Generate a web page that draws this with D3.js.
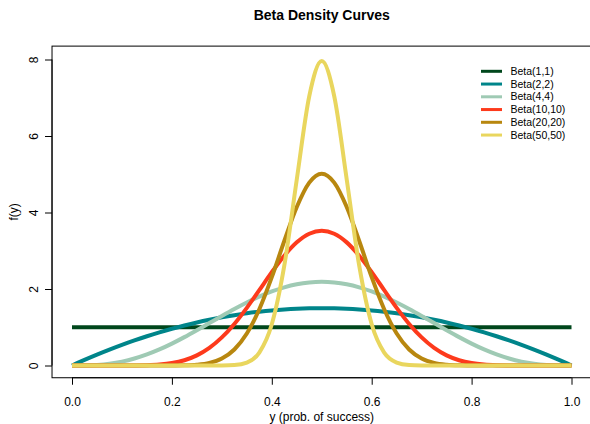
<!DOCTYPE html>
<html>
<head>
<meta charset="utf-8">
<script src="https://cdn.jsdelivr.net/npm/d3@7"></script>
<style>
  body { margin: 0; background: #fff; }
  text { font-family: "Liberation Sans", Arial, Helvetica, sans-serif; fill: #000; }
</style>
</head>
<body>
<div id="graph"></div>
<script>
// Chart data (densities at steps of 0.025)
var xs = [0, 0.025, 0.05, 0.075, 0.1, 0.125, 0.15, 0.175, 0.2, 0.225, 0.25, 0.275, 0.3, 0.325, 0.35, 0.375, 0.4,
  0.425, 0.45, 0.475, 0.5, 0.525, 0.55, 0.575, 0.6, 0.625, 0.65, 0.675, 0.7, 0.725, 0.75, 0.775, 0.8, 0.825,
  0.85, 0.875, 0.9, 0.925, 0.95, 0.975, 1];

var beta1_1 = [1, 1, 1, 1, 1, 1, 1, 1, 1, 1, 1, 1, 1, 1, 1, 1, 1, 1, 1, 1, 1,
  1, 1, 1, 1, 1, 1, 1, 1, 1, 1, 1, 1, 1, 1, 1, 1, 1, 1, 1, 1];
var beta2_2 = [0, 0.146, 0.285, 0.416, 0.54, 0.656, 0.765, 0.866, 0.96, 1.046, 1.125, 1.196, 1.26, 1.316, 1.365, 1.406, 1.44, 1.466, 1.485, 1.496, 1.5,
  1.496, 1.485, 1.466, 1.44, 1.406, 1.365, 1.316, 1.26, 1.196, 1.125, 1.046, 0.96, 0.866, 0.765, 0.656, 0.54, 0.416, 0.285, 0.146, 0];
var beta4_4 = [0, 0.002, 0.015, 0.047, 0.102, 0.183, 0.29, 0.421, 0.573, 0.742, 0.923, 1.11, 1.297, 1.478, 1.648, 1.802, 1.935, 2.043, 2.123, 2.171, 2.188,
  2.171, 2.123, 2.043, 1.935, 1.802, 1.648, 1.478, 1.297, 1.11, 0.923, 0.742, 0.573, 0.421, 0.29, 0.183, 0.102, 0.047, 0.015, 0.002, 0];
var beta10_10 = [0, 0, 0, 0, 0, 0.002, 0.008, 0.025, 0.063, 0.138, 0.265, 0.46, 0.734, 1.087, 1.508, 1.971, 2.44, 2.871, 3.219, 3.445, 3.524,
  3.445, 3.219, 2.871, 2.44, 1.971, 1.508, 1.087, 0.734, 0.46, 0.265, 0.138, 0.063, 0.025, 0.008, 0.002, 0, 0, 0, 0, 0];
var beta20_20 = [0, 0, 0, 0, 0, 0, 0, 0, 0.001, 0.005, 0.021, 0.068, 0.183, 0.419, 0.836, 1.471, 2.309, 3.255, 4.143, 4.782, 5.015,
  4.782, 4.143, 3.255, 2.309, 1.471, 0.836, 0.419, 0.183, 0.068, 0.021, 0.005, 0.001, 0, 0, 0, 0, 0, 0, 0, 0];
var beta50_50 = [0, 0, 0, 0, 0, 0, 0, 0, 0, 0, 0, 0, 0.002, 0.013, 0.078, 0.337, 1.077, 2.609, 4.864, 7.04, 7.959,
  7.04, 4.864, 2.609, 1.077, 0.337, 0.078, 0.013, 0.002, 0, 0, 0, 0, 0, 0, 0, 0, 0, 0, 0, 0];

var seriesNames = ['Beta(1,1)', 'Beta(2,2)', 'Beta(4,4)', 'Beta(10,10)', 'Beta(20,20)', 'Beta(50,50)'];
var seriesValues = [beta1_1, beta2_2, beta4_4, beta10_10, beta20_20, beta50_50];
var seriesColors = ['#00471c', '#00858a', '#9fcab4', '#fd3a1c', '#b8870f', '#e9d65e'];

var xTicks = [0, 0.2, 0.4, 0.6, 0.8, 1];
var yTicks = [0, 2, 4, 6, 8];

// Graph dimensions
var width = 590, height = 424;

// Set ranges
var x = d3.scaleLinear().domain([0, 1]).range([72, 571.5]),
    y = d3.scaleLinear().domain([0, 8]).range([365.5, 59.5]);

// Plot box edges (R extends x range by 4%)
var boxLeft = x(-0.04), boxRight = x(1.04),
    boxTop = y(8.35), boxBottom = y(-0.32);

var svg = d3.select('#graph')
    .append('svg')
    .attr('width', width)
    .attr('height', height);

// Define line
var line = d3.line()
    .curve(d3.curveMonotoneX)
    .x(function(d) { return x(d[0]); })
    .y(function(d) { return y(d[1]); });

// Curves
seriesValues.forEach(function(vals, i) {
    svg.append('path')
        .datum(xs.map(function(v, j) { return [v, vals[j]]; }))
        .attr('fill', 'none')
        .attr('stroke', seriesColors[i])
        .attr('stroke-width', 4)
        .attr('stroke-linejoin', 'round')
        .attr('d', line);
});

// Box
svg.append('rect')
    .attr('x', boxLeft)
    .attr('y', boxTop)
    .attr('width', boxRight - boxLeft)
    .attr('height', boxBottom - boxTop)
    .attr('fill', 'none')
    .attr('stroke', '#000')
    .attr('stroke-width', 1);

// X axis
var xAxis = svg.append('g')
    .attr('transform', 'translate(0,' + boxBottom + ')')
    .call(d3.axisBottom(x).tickValues(xTicks).tickFormat(d3.format('.1f')).tickSize(7).tickPadding(13));
xAxis.selectAll('text').attr('font-size', 12).attr('font-family', null);
xAxis.selectAll('line, path').attr('stroke', '#000');
xAxis.select('.domain').attr('d', 'M' + x(0) + ',0H' + x(1));

// Y axis
var yAxis = svg.append('g')
    .attr('transform', 'translate(' + boxLeft + ',0)')
    .call(d3.axisLeft(y).tickValues(yTicks).tickSize(7));
yAxis.selectAll('line, path').attr('stroke', '#000');
yAxis.select('.domain').attr('d', 'M0,' + y(0) + 'V' + y(8));
yAxis.selectAll('text')
    .attr('font-size', 12)
    .attr('font-family', null)
    .attr('x', null).attr('dy', null)
    .attr('text-anchor', 'middle')
    .attr('transform', 'translate(-14.5,0) rotate(-90)');

// Title and labels
svg.append('text')
    .attr('x', (boxLeft + boxRight) / 2)
    .attr('y', 20)
    .attr('text-anchor', 'middle')
    .attr('font-size', 14)
    .attr('font-weight', 'bold')
    .text('Beta Density Curves');

svg.append('text')
    .attr('x', (boxLeft + boxRight) / 2)
    .attr('y', 421)
    .attr('text-anchor', 'middle')
    .attr('font-size', 12)
    .text('y (prob. of success)');

svg.append('text')
    .attr('transform', 'translate(17.5,' + (boxTop + boxBottom) / 2 + ') rotate(-90)')
    .attr('text-anchor', 'middle')
    .attr('font-size', 12)
    .text('f(y)');

// Legend
var legend = svg.append('g')
    .selectAll('g')
    .data(seriesNames)
    .enter()
    .append('g')
    .attr('transform', function(d, i) { return 'translate(481,' + (71.3 + i * 12.75) + ')'; });
legend.append('line')
    .attr('x1', 0).attr('x2', 21)
    .attr('stroke', function(d, i) { return seriesColors[i]; })
    .attr('stroke-width', 3);
legend.append('text')
    .attr('x', 29.5)
    .attr('dy', '0.35em')
    .attr('font-size', 10.5)
    .text(function(d) { return d; });
</script>
</body>
</html>
